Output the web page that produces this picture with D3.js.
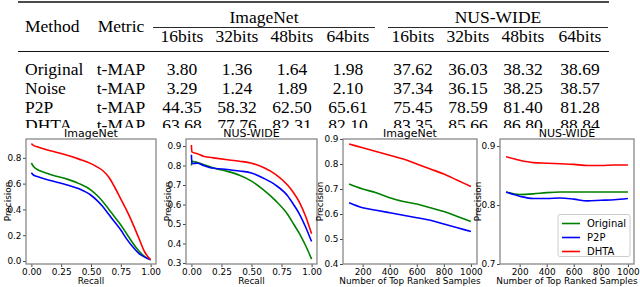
<!DOCTYPE html>
<html>
<head>
<meta charset="utf-8">
<script src="https://cdn.jsdelivr.net/npm/d3@7"></script>
<style>
  html, body { margin: 0; padding: 0; background: #fff; }
  svg { display: block; }
  .tbl text { font-family: 'Liberation Serif', 'DejaVu Serif', serif; font-size: 17.5px; }
  .fig text { font-family: 'DejaVu Sans', sans-serif; }
</style>
</head>
<body>
<div id="chart"></div>
<script>
// 0. Data
  // 0.1 Table
const methods = ['Original', 'Noise', 'P2P', 'DHTA'];
const metricName = 't-MAP';
const datasetNames = ['ImageNet', 'NUS-WIDE'];
const bitLabels = ['16bits', '32bits', '48bits', '64bits'];
const tmapImageNet = [
  [3.80, 1.36, 1.64, 1.98],
  [3.29, 1.24, 1.89, 2.10],
  [44.35, 58.32, 62.50, 65.61],
  [63.68, 77.76, 82.31, 82.10]
];
const tmapNusWide = [
  [37.62, 36.03, 38.32, 38.69],
  [37.34, 36.15, 38.25, 38.57],
  [75.45, 78.59, 81.40, 81.28],
  [83.35, 85.66, 86.80, 88.84]
];

  // 0.2 Curves
const seriesNames = ['Original', 'P2P', 'DHTA'];
const prRecallImageNet = [0, 0.02, 0.05, 0.1, 0.2, 0.3, 0.4, 0.5, 0.55, 0.6, 0.65, 0.7, 0.75, 0.8, 0.85, 0.9, 0.95, 1.0];
const prImageNetOriginal = [0.76, 0.73, 0.71, 0.69, 0.66, 0.635, 0.60, 0.55, 0.51, 0.46, 0.40, 0.34, 0.28, 0.21, 0.14, 0.08, 0.035, 0.01];
const prImageNetP2P = [0.685, 0.665, 0.655, 0.64, 0.615, 0.59, 0.56, 0.51, 0.47, 0.42, 0.36, 0.30, 0.24, 0.17, 0.11, 0.06, 0.03, 0.01];
const prImageNetDHTA = [0.91, 0.895, 0.885, 0.87, 0.845, 0.82, 0.79, 0.755, 0.73, 0.70, 0.65, 0.57, 0.48, 0.39, 0.29, 0.18, 0.07, 0.01];

const prRecallNus = [0, 0.004, 0.05, 0.1, 0.15, 0.2, 0.3, 0.4, 0.5, 0.6, 0.7, 0.8, 0.85, 0.9, 0.95, 1.0];
const prNusOriginal = [0.80, 0.822, 0.815, 0.805, 0.795, 0.785, 0.77, 0.75, 0.72, 0.675, 0.62, 0.55, 0.50, 0.45, 0.39, 0.32];
const prNusP2P = [0.855, 0.81, 0.812, 0.80, 0.79, 0.785, 0.78, 0.772, 0.762, 0.735, 0.70, 0.645, 0.60, 0.55, 0.485, 0.41];
const prNusDHTA = [0.905, 0.87, 0.86, 0.848, 0.842, 0.838, 0.83, 0.822, 0.812, 0.79, 0.755, 0.70, 0.66, 0.61, 0.54, 0.45];

const topSamples = [100, 200, 300, 400, 500, 600, 700, 800, 900, 1000];
const topImageNetOriginal = [0.72, 0.70, 0.685, 0.665, 0.65, 0.64, 0.625, 0.61, 0.59, 0.57];
const topImageNetP2P = [0.645, 0.625, 0.615, 0.605, 0.595, 0.585, 0.575, 0.56, 0.545, 0.53];
const topImageNetDHTA = [0.88, 0.865, 0.85, 0.835, 0.82, 0.80, 0.78, 0.76, 0.735, 0.71];
const topNusOriginal = [0.822, 0.818, 0.819, 0.821, 0.822, 0.822, 0.822, 0.822, 0.822, 0.822];
const topNusP2P = [0.822, 0.815, 0.811, 0.811, 0.812, 0.810, 0.807, 0.808, 0.809, 0.811];
const topNusDHTA = [0.882, 0.876, 0.872, 0.871, 0.870, 0.869, 0.867, 0.867, 0.868, 0.868];

  // 0.3 Tick labels
const recallTicks = [0, 0.25, 0.5, 0.75, 1.0];
const sampleTicks = [200, 400, 600, 800, 1000];
const precTicksA = [0, 0.2, 0.4, 0.6, 0.8];
const precTicksB = [0.3, 0.4, 0.5, 0.6, 0.7, 0.8, 0.9];
const precTicksC = [0.4, 0.5, 0.6, 0.7, 0.8, 0.9];
const precTicksD = [0.7, 0.8, 0.9];

// 1. Canvas
const W = 640, H = 287;
const svg = d3.select('#chart').append('svg')
  .attr('width', W).attr('height', H);

// 2. Table
const table = svg.append('g').attr('class', 'tbl').attr('fill', '#000');

const valueX = [182, 237, 292, 348, 413, 468, 523, 580];
const groupSpan = [[153, 375], [388, 608]];
const rowY = [75, 93.8, 112.6, 131.4];

  // 2.1 Rules
table.append('line').attr('x1', 18).attr('x2', 609).attr('y1', 2).attr('y2', 2)
  .attr('stroke', '#111').attr('stroke-width', 1.6);
table.append('line').attr('x1', 18).attr('x2', 609).attr('y1', 51.5).attr('y2', 51.5)
  .attr('stroke', '#111').attr('stroke-width', 1.1);
groupSpan.forEach(s => {
  table.append('line').attr('x1', s[0]).attr('x2', s[1]).attr('y1', 27.5).attr('y2', 27.5)
    .attr('stroke', '#111').attr('stroke-width', 0.9);
});

  // 2.2 Header
table.append('text').attr('x', 25).attr('y', 32).text('Method');
table.append('text').attr('x', 121).attr('y', 32).attr('text-anchor', 'middle').text('Metric');
datasetNames.forEach((n, i) => {
  table.append('text')
    .attr('x', (groupSpan[i][0] + groupSpan[i][1]) / 2).attr('y', 23)
    .attr('text-anchor', 'middle').text(n);
});
valueX.forEach((x, i) => {
  table.append('text').attr('x', x).attr('y', 42)
    .attr('text-anchor', 'middle').text(bitLabels[i % 4]);
});

  // 2.3 Rows
methods.forEach((m, r) => {
  table.append('text').attr('x', 25).attr('y', rowY[r]).text(m);
  table.append('text').attr('x', 121).attr('y', rowY[r]).attr('text-anchor', 'middle').text(metricName);
  tmapImageNet[r].concat(tmapNusWide[r]).forEach((v, c) => {
    table.append('text').attr('x', valueX[c]).attr('y', rowY[r])
      .attr('text-anchor', 'middle').text(v.toFixed(2));
  });
});

// 3. Chart figure (pasted over the last table row)
svg.append('rect').attr('x', 0).attr('y', 128).attr('width', W).attr('height', H - 128)
  .attr('fill', '#fff');

const colors = ['#008000', '#0000ff', '#ff0000'];
const plotTop = 139, plotBottom = 264;

const panels = [
  { title: 'ImageNet', xs: prRecallImageNet, ys: [prImageNetOriginal, prImageNetP2P, prImageNetDHTA],
    x0: 26, x1: 156, xd: [-0.045, 1.045], yd: [-0.023, 0.946],
    xt: recallTicks, yt: precTicksA, xf: '.2f', yf: '.1f', xl: 'Recall', yl: 8 },
  { title: 'NUS-WIDE', xs: prRecallNus, ys: [prNusOriginal, prNusP2P, prNusDHTA],
    x0: 186, x1: 317, xd: [-0.045, 1.045], yd: [0.295, 0.936],
    xt: recallTicks, yt: precTicksB, xf: '.2f', yf: '.1f', xl: 'Recall', yl: 168 },
  { title: 'ImageNet', xs: topSamples, ys: [topImageNetOriginal, topImageNetP2P, topImageNetDHTA],
    x0: 343, x1: 477, xd: [55, 1045], yd: [0.4, 0.9],
    xt: sampleTicks, yt: precTicksC, xf: 'd', yf: '.1f', xl: 'Number of Top Ranked Samples', yl: 320 },
  { title: 'NUS-WIDE', xs: topSamples, ys: [topNusOriginal, topNusP2P, topNusDHTA],
    x0: 500, x1: 634, xd: [55, 1045], yd: [0.7, 0.912],
    xt: sampleTicks, yt: precTicksD, xf: 'd', yf: '.1f', xl: 'Number of Top Ranked Samples', yl: 478, legend: true }
];

panels.forEach(p => {
  const g = svg.append('g').attr('class', 'fig');
  const x = d3.scaleLinear().domain(p.xd).range([p.x0, p.x1]);
  const y = d3.scaleLinear().domain(p.yd).range([plotBottom, plotTop]);

  // 3.1 Axes
  const xa = g.append('g').attr('transform', `translate(0,${plotBottom})`)
    .call(d3.axisBottom(x).tickValues(p.xt).tickFormat(d3.format(p.xf)).tickSize(3).tickPadding(1.5));
  const ya = g.append('g').attr('transform', `translate(${p.x0},0)`)
    .call(d3.axisLeft(y).tickValues(p.yt).tickFormat(d3.format(p.yf)).tickSize(3).tickPadding(1.5));
  [xa, ya].forEach(a => {
    a.select('.domain').remove();
    a.selectAll('line').attr('stroke', '#444');
    a.selectAll('text').attr('fill', '#000').style('font-size', '8.9px');
  });

  // 3.2 Lines
  const clipId = 'clip' + p.x0;
  g.append('clipPath').attr('id', clipId).append('rect')
    .attr('x', p.x0).attr('y', plotTop).attr('width', p.x1 - p.x0).attr('height', plotBottom - plotTop);
  p.ys.forEach((vals, k) => {
    const pts = p.xs.map((v, i) => [v, vals[i]]);
    g.append('path').datum(pts)
      .attr('clip-path', `url(#${clipId})`)
      .attr('fill', 'none').attr('stroke', colors[k]).attr('stroke-width', 1.6)
      .attr('d', d3.line().x(d => x(d[0])).y(d => y(d[1])).curve(d3.curveMonotoneX));
  });

  // 3.3 Frame
  g.append('rect').attr('x', p.x0).attr('y', plotTop)
    .attr('width', p.x1 - p.x0).attr('height', plotBottom - plotTop)
    .attr('fill', 'none').attr('stroke', '#888').attr('stroke-width', 1.3);

  // 3.4 Titles
  g.append('text').attr('x', (p.x0 + p.x1) / 2).attr('y', 137)
    .attr('text-anchor', 'middle').style('font-size', '11px').attr('fill', '#000').text(p.title);
  g.append('text').attr('x', (p.x0 + p.x1) / 2).attr('y', 284)
    .attr('text-anchor', 'middle').style('font-size', '8.9px').attr('fill', '#000').text(p.xl);
  g.append('text').attr('transform', `translate(${p.yl},${(plotTop + plotBottom) / 2}) rotate(-90)`)
    .attr('text-anchor', 'middle').attr('dy', '0.35em').style('font-size', '8.9px').attr('fill', '#000').text('Precision');

  // 3.5 Legend
  if (p.legend) {
    const lg = g.append('g');
    lg.append('rect').attr('x', 558).attr('y', 214.5).attr('width', 72).attr('height', 42).attr('rx', 2)
      .attr('fill', '#fff').attr('stroke', '#ccc').attr('stroke-width', 1);
    seriesNames.forEach((n, k) => {
      const ly = 223.5 + k * 14;
      lg.append('line').attr('x1', 562).attr('x2', 580).attr('y1', ly).attr('y2', ly)
        .attr('stroke', colors[k]).attr('stroke-width', 1.6);
      lg.append('text').attr('x', 587).attr('y', ly).attr('dy', '0.35em')
        .style('font-size', '10px').attr('fill', '#000').text(n);
    });
  }
});
</script>
</body>
</html>
